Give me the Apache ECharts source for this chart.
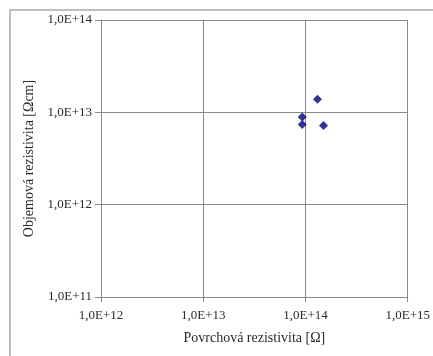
<!DOCTYPE html>
<html>
<head>
<meta charset="utf-8">
<script src="https://cdn.jsdelivr.net/npm/echarts@6/dist/echarts.min.js"></script>
<style>
  html, body { margin: 0; padding: 0; background: #fff; }
  #chart { width: 433px; height: 356px; }
</style>
</head>
<body>
<div id="chart"></div>
<script>
// Surface resistivity [Ω] vs. volume resistivity [Ωcm]
const surfaceResistivity = [1.31e14, 9.3e13, 9.3e13, 1.5e14];
const volumeResistivity  = [1.39e13, 8.9e12, 7.4e12, 7.2e12];
const xTicks = [1e12, 1e13, 1e14, 1e15];
const yTicks = [1e11, 1e12, 1e13, 1e14];

const points = surfaceResistivity.map((x, i) => [x, volumeResistivity[i]]);

function sciLabel(v) {
  const exp = Math.round(Math.log10(v));
  const mant = v / Math.pow(10, exp);
  return mant.toFixed(1).replace('.', ',') + 'E+' + exp;
}

const font = '"Liberation Serif", "Times New Roman", serif';
const gridColor = '#8a8a8a';
const textColor = '#2a2a2a';

const chart = echarts.init(document.getElementById('chart'), null, { renderer: 'canvas' });
chart.setOption({
  animation: false,
  backgroundColor: '#fff',
  graphic: [{
    type: 'rect',
    shape: { x: 10, y: 10, width: 440, height: 360 },
    style: { fill: 'none', stroke: '#a8a8a8', lineWidth: 1.5 },
    silent: true
  }],
  grid: { left: 101, right: 24, top: 20, bottom: 59 },
  xAxis: {
    type: 'log',
    logBase: 10,
    min: xTicks[0],
    max: xTicks[xTicks.length - 1],
    name: 'Povrchová rezistivita [Ω]',
    nameLocation: 'middle',
    nameGap: 34,
    nameTextStyle: { fontFamily: font, fontSize: 14, color: textColor },
    axisLine: { show: true, lineStyle: { color: gridColor, width: 1 } },
    axisTick: { show: true, length: 5, lineStyle: { color: gridColor } },
    axisLabel: { fontFamily: font, fontSize: 13, color: textColor, margin: 12, formatter: sciLabel },
    splitLine: { show: true, lineStyle: { color: gridColor, width: 1 } },
    minorTick: { show: false }
  },
  yAxis: {
    type: 'log',
    logBase: 10,
    min: yTicks[0],
    max: yTicks[yTicks.length - 1],
    name: 'Objemová rezistivita [Ωcm]',
    nameLocation: 'middle',
    nameGap: 62,
    nameTextStyle: { fontFamily: font, fontSize: 14, color: textColor },
    axisLine: { show: true, lineStyle: { color: gridColor, width: 1 } },
    axisTick: { show: true, length: 6, lineStyle: { color: gridColor } },
    axisLabel: { fontFamily: font, fontSize: 13, color: textColor, margin: 9, formatter: sciLabel },
    splitLine: { show: true, lineStyle: { color: gridColor, width: 1 } }
  },
  series: [{
    type: 'scatter',
    data: points,
    symbol: 'diamond',
    symbolSize: 9,
    itemStyle: { color: '#00007a' }
  }]
});
</script>
</body>
</html>
